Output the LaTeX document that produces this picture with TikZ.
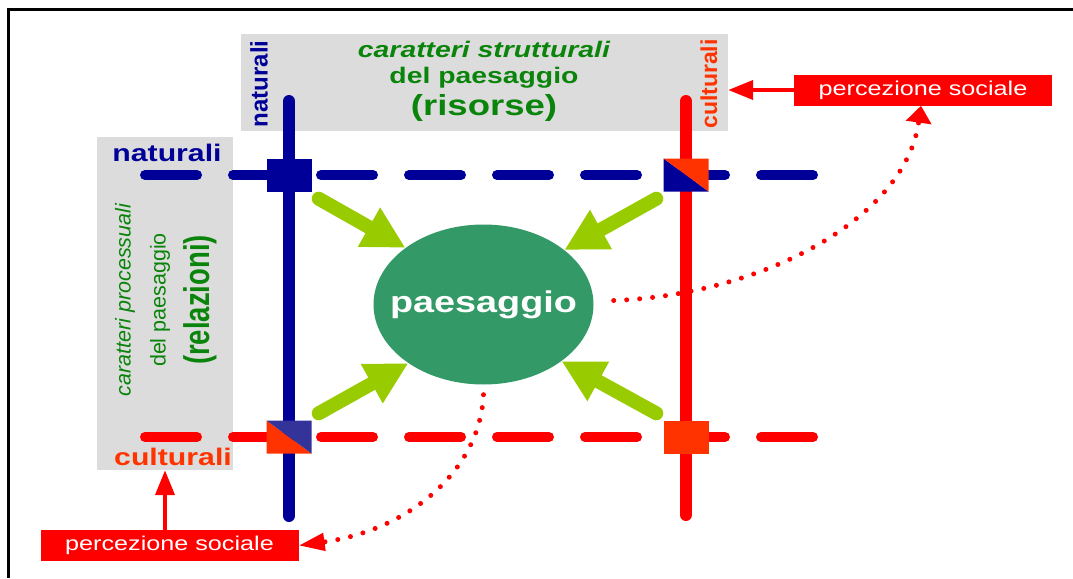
\documentclass[tikz,border=0pt]{standalone}
\usepackage{fontspec}
\setmainfont{Liberation Sans}[FakeStretch=1.26]
\newfontfamily\plainsf{Liberation Sans}
\usepackage{xcolor}
\usepackage{graphicx}
\usepackage{tikz}
\usetikzlibrary{shapes.geometric, arrows.meta}
\definecolor{navy}{HTML}{000099}
\definecolor{rosso}{HTML}{FF0000}
\definecolor{arancio}{HTML}{FF3300}
\definecolor{viola}{HTML}{333399}
\definecolor{verde}{HTML}{0A840A}
\definecolor{prato}{HTML}{339966}
\definecolor{lime}{HTML}{99CC00}
\definecolor{grigio}{HTML}{DCDCDC}
\tikzstyle{panel} = [rectangle, fill=grigio, inner sep=0pt]
\tikzstyle{axis} = [line width=12pt, line cap=round]
\tikzstyle{grid} = [line width=10pt, line cap=round, dash pattern=on 52pt off 36pt]
\tikzstyle{cross} = [rectangle, minimum width=45pt, minimum height=33pt, inner sep=0pt]
\tikzstyle{landscape} = [ellipse, fill=prato, minimum width=220pt, minimum height=160pt, inner sep=0pt, inner xsep=-16pt, text=white, font=\bfseries\fontsize{30}{30}\selectfont]
\tikzstyle{influence} = [lime, line width=14pt, line cap=round, -{Triangle[width=42pt, length=42pt]}]
\tikzstyle{percept} = [rectangle, fill=rosso, text=white, minimum width=258pt, minimum height=31pt, inner sep=0pt, font=\fontsize{20}{20}\selectfont]
\tikzstyle{feedback} = [rosso, line width=4pt, -{Triangle[width=19pt, length=25pt]}]
\tikzstyle{dots} = [rosso, line width=5pt, line cap=round, dash pattern=on 0pt off 13pt]
\tikzset{split/.style 2 args={path picture={
  \fill[#1] (path picture bounding box.north west) -- (path picture bounding box.south east) -- (path picture bounding box.south west) -- cycle;
  \fill[#2] (path picture bounding box.north west) -- (path picture bounding box.north east) -- (path picture bounding box.south east) -- cycle;}}}
\begin{document}
\begin{tikzpicture}[x=1pt, y=-1pt]
   \useasboundingbox (0,0) rectangle (1073,578);
   \draw [line width=3pt] (8,578) -- (8,10) -- (1073,10);
   \node (top) [panel, minimum width=487pt, minimum height=97pt] at (484.5,82.5) {};
   \node (side) [panel, minimum width=136pt, minimum height=333pt] at (165,303.5) {};
   \coordinate (nw) at (145,175); \coordinate (ne) at (822,175);
   \coordinate (cw) at (145,437); \coordinate (ce) at (822,437);
   \coordinate (nt) at (289,101); \coordinate (nb) at (289,516);
   \coordinate (ct) at (686,101); \coordinate (cb) at (686,515);
   \draw [grid, navy] (nw) -- (ne);
   \draw [grid, rosso] (cw) -- (ce);
   \draw [axis, navy] (nt) -- (nb);
   \draw [axis, rosso] (ct) -- (cb);
   \node (nn) [cross, fill=navy] at (289,175) {};
   \node (nc) [cross, split={navy}{arancio}] at (686,175) {};
   \node (cn) [cross, split={arancio}{viola}] at (289,437) {};
   \node (cc) [cross, fill=arancio] at (686,437) {};
   \node (struct) [align=center, text=verde, font=\bfseries\fontsize{22.5}{26}\selectfont] at (484,81) {{\itshape caratteri strutturali}\\del paesaggio\\[6pt]{\fontsize{29}{32}\selectfont (risorse)}};
   \node (proc) [rotate=90, align=center, text=verde, font=\plainsf\fontsize{21.5}{35}\selectfont] at (166,300) {{\itshape caratteri processuali}\\del paesaggio\\[9pt]\scalebox{1}[1.3]{\bfseries\fontsize{27.5}{30}\selectfont (relazioni)}};
   \node (natv) [rotate=90, text=navy, font=\plainsf\bfseries\fontsize{24}{24}\selectfont] at (259,84) {naturali};
   \node (culv) [rotate=90, text=arancio, font=\plainsf\bfseries\fontsize{23}{23}\selectfont] at (709,84) {culturali};
   \node (nath) [text=navy, font=\bfseries\fontsize{24}{24}\selectfont] at (167,153) {naturali};
   \node (culh) [text=arancio, font=\bfseries\fontsize{24}{24}\selectfont] at (173,457) {culturali};
   \node (paes) [landscape] at (483.5,304.5) {paesaggio};
   \node (ps1) [percept] at (923,90) {percezione sociale};
   \node (ps2) [percept] at (169.5,545.5) {percezione sociale};
   \draw [influence] ([shift={(7pt,-7pt)}]nn.south east) -- (paes.144);
   \draw [influence] ([shift={(-7pt,-7pt)}]nc.south west) -- (paes.34);
   \draw [influence] ([shift={(7pt,7pt)}]cn.north east) -- (paes.218);
   \draw [influence] ([shift={(-7pt,7pt)}]cc.north west) -- (paes.324);
   \draw [feedback] (ps1.west) -- (ps1.west -| top.east);
   \draw [feedback] (ps2.north -| 165,0) -- (side.south -| 165,0);
   \draw [dots, -{Triangle[width=25pt, length=17pt]}] ([xshift=20pt, yshift=4pt]paes.east) .. controls (760,295) and (905,220) .. (ps1.south -| 921,0);
   \draw [dots, -{Triangle[width=17pt, length=26pt]}] ([yshift=-10pt]paes.south) .. controls (480,470) and (410,530) .. (ps2.east);
\end{tikzpicture}
\end{document}
